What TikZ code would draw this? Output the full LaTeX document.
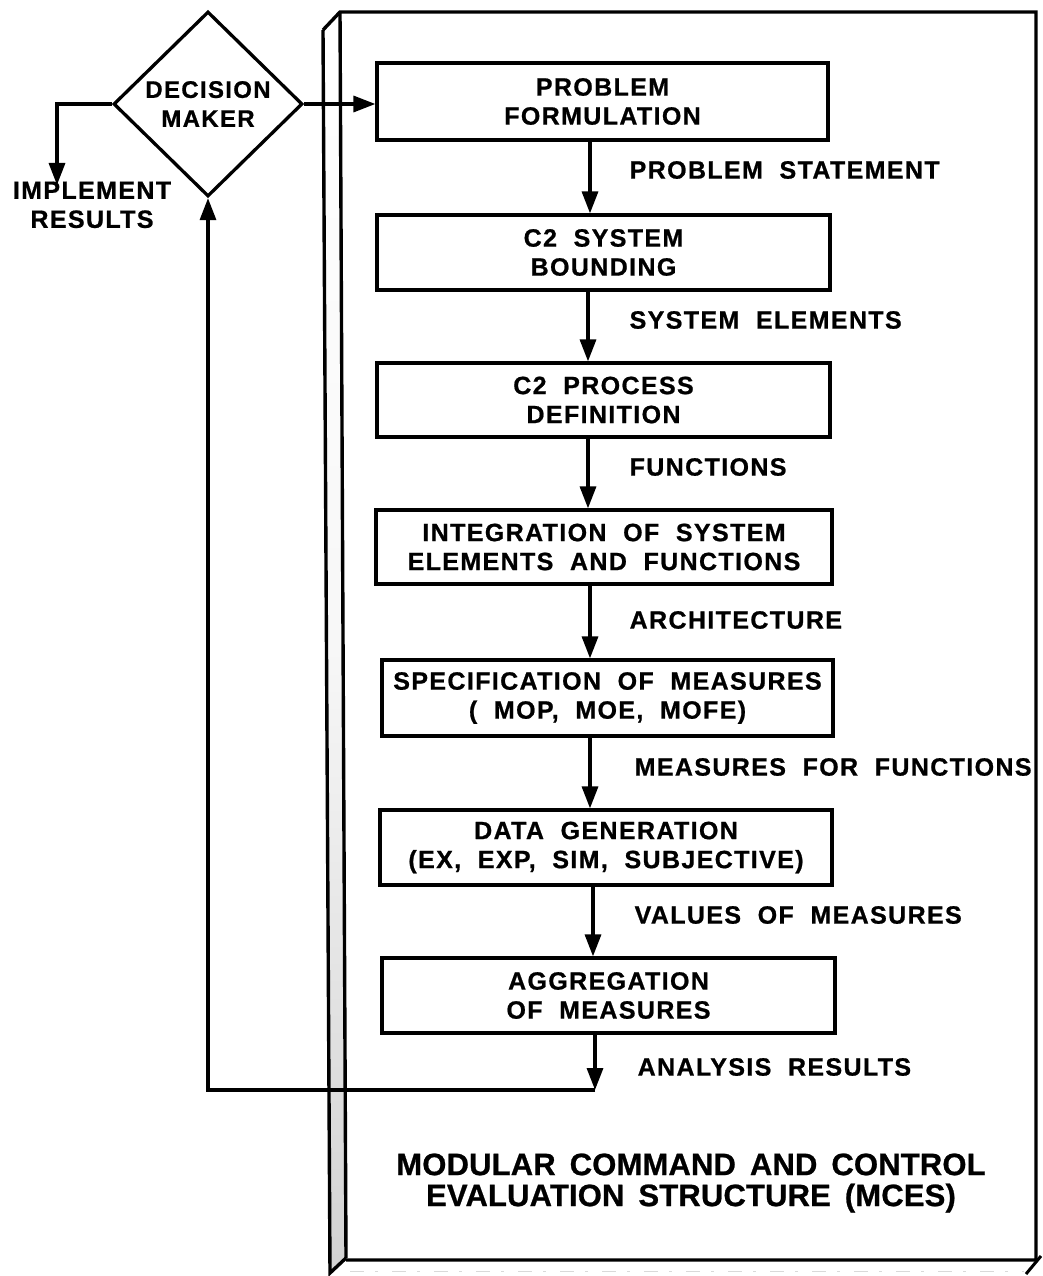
\documentclass[tikz,border=0pt]{standalone}
\usepackage{fontspec}
\setmainfont{Liberation Sans}[LetterSpace=5.5,WordSpace=2,BoldFeatures={FakeBold=0.8}]
\newfontfamily\titlefont{Liberation Sans}[LetterSpace=0.5,WordSpace=1.6,BoldFeatures={FakeBold=0.8}]
\usetikzlibrary{shapes.geometric,arrows.meta,calc}
\begin{document}
\begin{tikzpicture}[x=1pt,y=-1pt,
  line width=3.3pt,
  txt/.style={font=\bfseries\fontsize{25}{29}\selectfont},
  box/.style={draw,line width=3.2pt,minimum width=452pt,minimum height=75pt,inner sep=0pt,align=center,txt},
  lab/.style={anchor=west,inner sep=0pt,txt},
  arr/.style={-{Triangle[length=22pt,width=16pt]}},
]
\useasboundingbox (0,0) rectangle (1043,1276);

% panel (3D board)
\fill[top color=white,bottom color=gray!35,middle color=gray!6]
  (323,30) -- (340,12) -- (346,1258) -- (330,1273) -- cycle;
\draw[line width=3.4pt,line join=miter] (323,30) -- (340,12) -- (1036,12) -- (1036,1260) -- (346,1260);
\draw[line width=3.4pt] (340,12) -- (346,1258);
\draw[line width=3.4pt] (323,30) -- (330,1273) -- (346,1258);
\draw[line width=3pt] (1041,1256) -- (1026,1274);
\draw[gray!30,line width=0.8pt,dash pattern=on 14pt off 11pt on 3pt off 14pt] (350,1271) -- (1024,1271);

% decision maker
\node[draw,diamond,minimum width=189pt,minimum height=185pt,inner sep=0pt,line width=3.3pt,
      align=center,font=\bfseries\fontsize{24}{29}\selectfont] (dm) at (208,104) {DECISION\\MAKER};
\node[anchor=north,inner sep=0pt,align=center,txt] (impl) at (92,180) {IMPLEMENT\\RESULTS};

% process boxes
\node[box,minimum width=451pt,minimum height=77pt] (b1) at (602.5,101.5) {PROBLEM\\FORMULATION};
\node[box,minimum width=453pt] (b2) at (603.5,252.5) {C2 SYSTEM\\BOUNDING};
\node[box,minimum width=453pt,minimum height=74pt] (b3) at (603.5,400) {C2 PROCESS\\DEFINITION};
\node[box,minimum width=456pt,minimum height=74pt] (b4) at (604,547) {INTEGRATION OF SYSTEM\\ELEMENTS AND FUNCTIONS};
\node[box,minimum width=451pt,minimum height=76pt] (b5) at (607.5,698) {SPECIFICATION OF MEASURES\\( MOP, MOE, MOFE)};
\node[box,minimum width=452pt] (b6) at (606,847.5) {DATA GENERATION\\(EX, EXP, SIM, SUBJECTIVE)};
\node[box,minimum width=453pt] (b7) at (608.5,995.5) {AGGREGATION\\OF MEASURES};

% flow labels
\node[lab] (l1) at (628,170) {PROBLEM STATEMENT};
\node[lab] (l2) at (628,320) {SYSTEM ELEMENTS};
\node[lab] (l3) at (628,467) {FUNCTIONS};
\node[lab] (l4) at (628,620) {ARCHITECTURE};
\node[lab] (l5) at (633,767) {MEASURES FOR FUNCTIONS};
\node[lab] (l6) at (633,915) {VALUES OF MEASURES};
\node[lab] (l7) at (636,1067) {ANALYSIS RESULTS};

% title
\node[align=center,inner sep=0pt,font=\titlefont\bfseries\fontsize{31}{31}\selectfont] (ttl) at (691,1183)
  {MODULAR COMMAND AND CONTROL\\EVALUATION STRUCTURE (MCES)};

% connectors
\draw[arr] (dm.east) -- (dm.east -| b1.west);
\draw[arr] (dm.west) -| ([xshift=-35pt,yshift=-5pt]impl.north);
\draw[arr] ([xshift=-12.5pt]b1.south) -- ([xshift=-12.5pt]b1.south |- b2.north);
\draw[arr] ([xshift=-15.5pt]b2.south) -- ([xshift=-15.5pt]b2.south |- b3.north);
\draw[arr] ([xshift=-15.5pt]b3.south) -- ([xshift=-15.5pt]b3.south |- b4.north);
\draw[arr] ([xshift=-14pt]b4.south) -- ([xshift=-14pt]b4.south |- b5.north);
\draw[arr] ([xshift=-17.5pt]b5.south) -- ([xshift=-17.5pt]b5.south |- b6.north);
\draw[arr] ([xshift=-13pt]b6.south) -- ([xshift=-13pt]b6.south |- b7.north);
\coordinate (fb) at (595,1090);
\coordinate (fl) at (208,1090);
\draw[arr] ([xshift=-13.5pt]b7.south) -- (fb);
\draw[arr,line join=miter] (fb) -- (fl) -- (dm.south);
\end{tikzpicture}
\end{document}
